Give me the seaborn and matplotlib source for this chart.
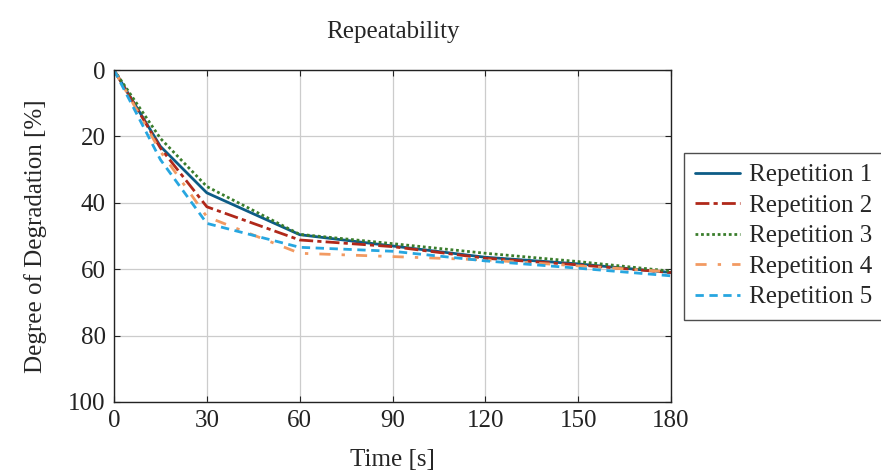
import matplotlib
matplotlib.use("Agg")
import matplotlib.pyplot as plt
import numpy as np
import pandas as pd
import seaborn as sns

time_s = [0, 15, 30, 60, 90, 120, 150, 180]
rep1 = [0, 23.0, 37.0, 49.6, 53.0, 56.4, 58.4, 61.0]
rep2 = [0, 23.5, 41.2, 51.2, 53.2, 56.7, 58.7, 61.0]
rep3 = [0, 20.6, 35.1, 49.5, 52.3, 55.2, 57.7, 60.6]
rep4 = [0, 24.5, 44.2, 55.2, 56.2, 57.2, 59.0, 60.8]
rep5 = [0, 27.0, 46.2, 53.4, 54.6, 57.5, 59.7, 62.0]
series_names = ["Repetition 1", "Repetition 2", "Repetition 3", "Repetition 4", "Repetition 5"]
series_vals = [rep1, rep2, rep3, rep4, rep5]

colors = ["#0d5c86", "#b0281a", "#3a7d2c", "#f29a62", "#27a6e0"]
dashes = [None, (5, 1.5, 1.5, 1.5), (1, 1), (4, 4, 1.2, 4), (3, 2)]

df = pd.DataFrame({
    "Time": np.tile(time_s, len(series_names)),
    "Degradation": np.concatenate(series_vals),
    "Series": np.repeat(series_names, len(time_s)),
})

sns.set_theme(style="whitegrid")
plt.rcParams["font.family"] = ["Liberation Serif", "DejaVu Serif"]

fig = plt.figure(figsize=(8.81, 4.71), dpi=100)
ax = fig.add_axes([114 / 881, 1 - 402 / 471, 557 / 881, 332 / 471])

for name, col, dsh in zip(series_names, colors, dashes):
    sub = df[df["Series"] == name]
    sns.lineplot(data=sub, x="Time", y="Degradation", ax=ax, color=col,
                 linewidth=2.0, label=name)
    if dsh is not None:
        ax.get_lines()[-1].set_dashes(dsh)

ax.set_xlim(0, 180)
ax.set_ylim(100, 0)
ax.set_xticks(range(0, 181, 30))
ax.set_yticks(range(0, 101, 20))
ax.grid(True, color="#cccccc", linewidth=0.9)
for sp in ax.spines.values():
    sp.set_color("#222222")
    sp.set_linewidth(1.0)
ax.tick_params(axis="both", labelsize=18, colors="#222222", direction="in",
               length=4, width=0.8, left=True, bottom=True, top=True, right=True)
ax.tick_params(axis="x", pad=6)
ax.tick_params(axis="y", pad=6)
ax.set_xlabel("Time [s]", fontsize=18, labelpad=12)
ax.set_ylabel("Degree of Degradation [%]", fontsize=18, labelpad=15)
ax.set_title("Repeatability", fontsize=18, pad=23)

leg = ax.legend(loc="center left", bbox_to_anchor=(1.023, 0.5), fontsize=18,
                frameon=True, fancybox=False, handlelength=1.8, borderpad=0.45,
                labelspacing=0.32, handletextpad=0.35, borderaxespad=0)
leg.get_frame().set_edgecolor("#222222")
leg.get_frame().set_linewidth(1.0)

fig.savefig("out.png", dpi=100)
